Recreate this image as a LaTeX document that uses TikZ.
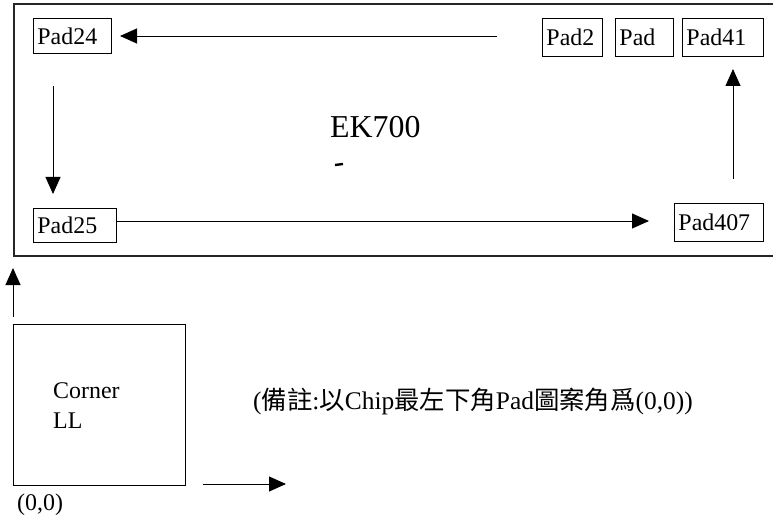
\documentclass[tikz,border=0pt]{standalone}
\usepackage{fontspec}
\setmainfont{Liberation Serif}
\newfontfamily\cjk{Noto Sans CJK TC}
\usetikzlibrary{arrows.meta}
\tikzset{
  padbox/.style={draw, line width=0.9bp, inner xsep=4bp, inner ysep=0pt, align=left, anchor=north west, font=\fontsize{24}{26}\selectfont},
  lbl/.style={inner sep=0pt, anchor=base west, font=\fontsize{24}{26}\selectfont},
  arr/.style={line width=0.9bp, -{Triangle[length=17bp,width=15bp]}},
  frame/.style={line width=1.1bp, draw=black!85}
}
\begin{document}
\begin{tikzpicture}[x=1bp,y=-1bp]
\useasboundingbox (0,0) rectangle (773,519);
% chip outline (right edge beyond picture)
\draw[frame] (773,4) -- (14,4) -- (14,256) -- (773,256);
% pads
\node[padbox, text width=70bp, minimum height=35bp] (p24) at (33,18) {Pad24};
\node[padbox, text width=75bp, minimum height=34bp] (p25) at (33,208) {Pad25};
\node[padbox, text width=52bp, minimum height=38bp] (p2) at (542,18) {Pad2};
\node[padbox, text width=50bp, minimum height=38bp] (pad) at (615,18) {Pad};
\node[padbox, text width=73bp, minimum height=38bp] (p41) at (682,18) {Pad41};
\node[padbox, text width=81bp, minimum height=38bp] (p407) at (674,203) {Pad407};
% title
\node[lbl, font=\fontsize{32}{34}\selectfont] (title) at (330,138) {EK700};
\draw[line width=2.4bp] (335,165) -- (343,164);
% arrows
\coordinate (a1s) at (497,36);  \coordinate (a1e) at (120,36);
\coordinate (a2s) at (53,86);   \coordinate (a2e) at (53,194);
\coordinate (a3s) at (116,221); \coordinate (a3e) at (649,221);
\coordinate (a4s) at (733,179); \coordinate (a4e) at (733,69);
\draw[arr] (a1s) -- (a1e);
\draw[arr] (a2s) -- (a2e);
\draw[arr] (a3s) -- (a3e);
\draw[arr] (a4s) -- (a4e);
% corner
\node[draw, line width=0.9bp, minimum width=172bp, minimum height=161bp, anchor=north west, inner sep=0pt] (corner) at (13,324) {};
\node[lbl] (ctext) at (53,398) {Corner};
\node[lbl] (lltext) at (53,428) {LL};
\node[lbl] (origin) at (17,510) {(0,0)};
\coordinate (b1s) at (13,317); \coordinate (b1e) at (13,268);
\coordinate (b2s) at (203,484); \coordinate (b2e) at (286,484);
\draw[arr] (b1s) -- (b1e);
\draw[arr] (b2s) -- (b2e);
% note
\node[lbl, font=\fontsize{25.5}{27}\selectfont] (note) at (253,409) {({\cjk 備註}:{\cjk 以}Chip{\cjk 最左下角}Pad{\cjk 圖案角爲}(0,0))};
\end{tikzpicture}
\end{document}
